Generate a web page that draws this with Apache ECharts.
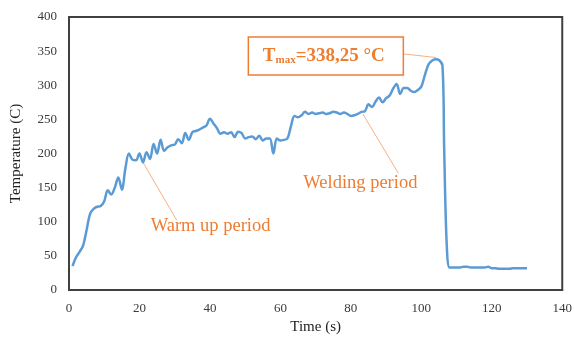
<!DOCTYPE html>
<html><head><meta charset="utf-8">
<script src="https://cdn.jsdelivr.net/npm/echarts@6/dist/echarts.min.js"></script>
<style>html,body{margin:0;padding:0;background:#fff}#c{width:575px;height:341px}</style>
</head><body><div id="c"></div>
<script>
const times = [1,2,3,4,5,6,7,8,9,10,11,12,13,14,15,16,17,18,19,20,21,22,23,24,25,26,27,28,29,30,31,32,33,34,35,36,37,38,39,40,41,42,43,44,45,46,47,48,49,50,51,52,53,54,55,56,57,58,59,60,61,62,63,64,65,66,67,68,69,70,71,72,73,74,75,76,77,78,79,80,81,82,83,84,85,86,87,88,89,90,91,92,93,94,95,96,97,98,99,100,101,102,103,104,105,106,106.5,107.2,108,109,110,111,112,113,114,115,116,117,118,119,120,121,122,123,124,125,126,127,128,129,130];
const temps = [35,48,56,65,88,112,119,122,123,130,146,140,150,165,147,178,200,191,190,200,187,202,192,214,200,220,204,209,212,213,221,215,230,220,231,233,235,238,241,251,244,237,229,231,229,231,224,232,230,222,224,225,221,226,219,222,222,200,222,219,220,222,240,255,253,256,261,258,260,258,259,260,258,259,261,260,258,260,258,255,256,258,261,262,272,268,276,282,275,281,285,295,302,287,296,296,292,290,293,298,315,330,336,338.25,337,329,204,68,33,33,33,33,34,34,33,33,33,33,33,34,32,32,31,31,31,31,32,32,32,32,32];
const xTicks = [0,20,40,60,80,100,120,140];
const yTicks = [0,50,100,150,200,250,300,350,400];
const xName = 'Time (s)';
const yName = 'Temperature (C)';
const warmLabel = 'Warm up period';
const weldLabel = 'Welding period';
const tmaxValue = '338,25';
// annotation anchors in data coordinates [time, temp]
const warmAnchor = [21, 187], warmLineEnd = [30.6, 102], warmTextAt = [40.2, 93];
const weldAnchor = [83.4, 258], weldLineEnd = [93.5, 171], weldTextAt = [82.7, 156];
const tmaxAnchor = [104.2, 340.6], tmaxBoxCenter = [72.9, 343];

const series = times.map((t, i) => [t, temps[i]]);
const chart = echarts.init(document.getElementById('c'), null, {renderer: 'canvas'});
const serif = '"Liberation Serif", "DejaVu Serif", serif';
const orange = '#ED7D31';
chart.setOption({
  animation: false,
  grid: {left: 69, right: 12, top: 17, bottom: 51, show: true, borderColor: '#404040', borderWidth: 2},
  xAxis: {type: 'value', min: 0, max: 140, interval: 20,
    name: xName, nameLocation: 'middle', nameGap: 27,
    nameTextStyle: {fontFamily: serif, fontSize: 15, color: '#222'},
    axisLine: {show: true, lineStyle: {color: '#404040', width: 2}}, axisTick: {show: false}, splitLine: {show: false},
    axisLabel: {fontFamily: serif, fontSize: 13, color: '#3a3a3a', margin: 12}},
  yAxis: {type: 'value', min: 0, max: 400, interval: 50,
    name: yName, nameLocation: 'middle', nameGap: 45,
    nameTextStyle: {fontFamily: serif, fontSize: 15, color: '#222'},
    axisLine: {show: true, lineStyle: {color: '#404040', width: 2}}, axisTick: {show: false}, splitLine: {show: false},
    axisLabel: {fontFamily: serif, fontSize: 13, color: '#3a3a3a', margin: 12}},
  series: [{type: 'line', data: series, smooth: 0.35, showSymbol: false,
    lineStyle: {color: '#5B9BD5', width: 2.5}, z: 3}]
});
const px = p => chart.convertToPixel({gridIndex: 0}, p);
const wa = px(warmAnchor), we = px(warmLineEnd), wt = px(warmTextAt);
const da = px(weldAnchor), de = px(weldLineEnd), dt = px(weldTextAt);
const ta = px(tmaxAnchor), tb = px(tmaxBoxCenter);
const boxW = 155, boxH = 38;
chart.setOption({graphic: [
  {type: 'line', shape: {x1: wa[0], y1: wa[1], x2: we[0], y2: we[1]}, style: {stroke: '#F4B183', lineWidth: 1}, z: 2},
  {type: 'text', x: wt[0], y: wt[1], style: {text: warmLabel, fill: orange, font: '18.5px ' + serif, align: 'center', verticalAlign: 'middle'}},
  {type: 'line', shape: {x1: da[0], y1: da[1], x2: de[0], y2: de[1]}, style: {stroke: '#F4B183', lineWidth: 1}, z: 2},
  {type: 'text', x: dt[0], y: dt[1], style: {text: weldLabel, fill: orange, font: '18.5px ' + serif, align: 'center', verticalAlign: 'middle'}},
  {type: 'line', shape: {x1: tb[0] + boxW / 2, y1: tb[1] - 2, x2: ta[0], y2: ta[1]}, style: {stroke: '#F4B183', lineWidth: 1}, z: 2},
  {type: 'rect', shape: {x: tb[0] - boxW / 2, y: tb[1] - boxH / 2, width: boxW, height: boxH}, style: {fill: '#fff', stroke: orange, lineWidth: 1.5}, z: 5},
  {type: 'text', x: tb[0] - 2, y: tb[1], z: 6, style: {
    text: '{a|T}{b|max}{a|=' + tmaxValue + ' °C}', align: 'center', verticalAlign: 'middle',
    rich: {
      a: {fontFamily: serif, fontSize: 19, fontWeight: 'bold', fill: orange, verticalAlign: 'bottom', lineHeight: 20},
      b: {fontFamily: serif, fontSize: 11, fontWeight: 'bold', fill: orange, verticalAlign: 'bottom', lineHeight: 20, padding: [9, 0, 0, 0]}
    }}}
]});
</script></body></html>
